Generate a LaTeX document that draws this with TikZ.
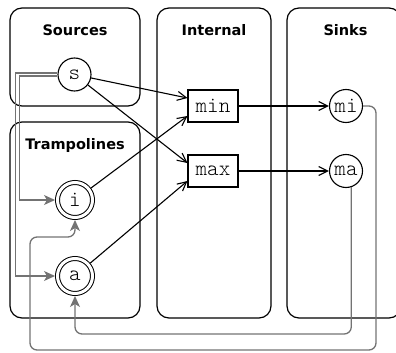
\documentclass[tikz,border=0pt]{standalone}
\usepackage{fontspec}
\newfontfamily\titlefont{DejaVu Sans}
\newfontfamily\codefont{Latin Modern Mono Light}
\usetikzlibrary{arrows.meta}
\definecolor{edgegray}{HTML}{737373}
\begin{document}
\begin{tikzpicture}[x=1pt,y=-1pt,
  group/.style={draw, line width=1.2pt, rounded corners=12pt},
  title/.style={font=\titlefont\bfseries\fontsize{14.5}{17}\selectfont, anchor=base},
  state/.style={circle, draw, line width=1.1pt, minimum size=33pt, inner sep=1pt, font=\codefont\fontsize{22}{24}\selectfont},
  accept/.style={circle, draw, double, double distance=3pt, line width=1pt, minimum size=35pt, inner sep=1pt, outer sep=2.5pt, font=\codefont\fontsize{22}{24}\selectfont},
  op/.style={rectangle, draw, line width=1.1pt, minimum width=50pt, minimum height=32pt, inner sep=1pt, font=\codefont\fontsize{22}{24}\selectfont},
  flow/.style={draw, line width=1.1pt, -{Straight Barb[length=9pt,width=9pt]}},
  back/.style={draw=edgegray, line width=1.3pt, -{Stealth[length=11pt,width=10pt,inset=3pt]}}
]
\useasboundingbox (0,0) rectangle (396,353);
\clip (0,0) rectangle (396,353);
% groups
\draw[group] (10,8) rectangle (140,106);
\draw[group] (10,122) rectangle (140,318);
\draw[group] (157,8) rectangle (271,318);
\draw[group] (287,8) rectangle (401,318);
\node[title] (tsrc) at (75,35.7) {Sources};
\node[title] (ttra) at (75,149.7) {Trampolines};
\node[title] (tint) at (214,35.7) {Internal};
\node[title] (tsnk) at (345.5,35.7) {Sinks};
% nodes
\node[state] (s) at (74.5,74.5) {s};
\node[accept] (i) at (75,200) {i};
\node[accept] (a) at (75,276) {a};
\node[op] (min) at (213,106) {min};
\node[op] (max) at (213,171) {max};
\node[state] (mi) at (346,106) {mi};
\node[state] (ma) at (346,171) {ma};
% black edges
\draw[flow] (s) -- ([yshift=8pt]min.west);
\draw[flow] (s) -- ([yshift=8pt]max.west);
\draw[flow] (i) -- ([yshift=-10pt]min.west);
\draw[flow] (a) -- ([yshift=-10pt]max.west);
\draw[flow] (min) -- (mi);
\draw[flow] (max) -- (ma);
% gray edges
\draw[back] ([yshift=1.5pt]s.west) -- ++(-42,0) |- (a);
\draw[back] ([yshift=-1.5pt]s.west) -- ++(-38,0) |- (i);
\draw[back, rounded corners=7pt] (mi.east) -- (376,106) -- (376,350) -- (30,350) -- (30,237) -- (75,237) -- (i);
\draw[back, rounded corners=7pt] (ma.-72) |- (75,334) -- (a);
\end{tikzpicture}
\end{document}
